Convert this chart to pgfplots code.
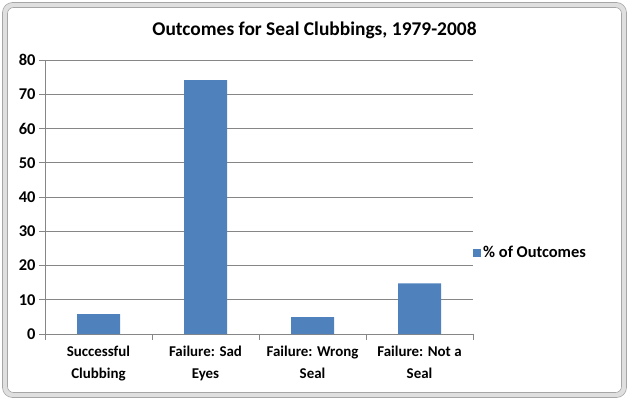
\documentclass[border=0pt]{standalone}
\usepackage{pgfplots}
\pgfplotsset{compat=1.18}
\usepackage{fontspec}
\setmainfont{Carlito}
\definecolor{barblue}{HTML}{4F81BD}
\definecolor{gridgray}{HTML}{868686}
\begin{document}
\begin{tikzpicture}[x=1bp,y=1bp]
\useasboundingbox (0,0) rectangle (629,400);
\draw[color=gray!25, line width=5bp, rounded corners=8bp] (5,5) rectangle (624,395);
\draw[color=gray!70, line width=0.6bp, rounded corners=10bp] (2.5,2.5) rectangle (626.5,397.5);
\draw[color=gray!70, line width=0.6bp, rounded corners=6bp] (7.5,7.5) rectangle (621.5,392.5);
\node[font=\fontsize{19.5}{23}\selectfont\bfseries] at (314.5,370) {Outcomes for Seal Clubbings, 1979-2008};
\begin{axis}[
  at={(45bp,66bp)}, anchor=south west,
  scale only axis, width=428bp, height=274bp,
  ymin=0, ymax=80, ytick={0,10,...,80},
  xmin=-0.5, xmax=3.5,
  xtick={-0.5,0.5,1.5,2.5,3.5}, xticklabels={,,,,,},
  extra x ticks={0,1,2,3},
  extra x tick labels={{Successful\\[3bp]Clubbing}, {Failure: Sad\\[3bp]Eyes}, {Failure: Wrong\\[3bp]Seal}, {Failure: Not a\\[3bp]Seal}},
  extra x tick style={major tick length=0pt, xticklabel style={yshift=-8bp}},
  axis lines*=left,
  axis line style={gridgray, line width=0.8bp},
  tick style={gridgray, line width=0.8bp},
  tick align=outside, major tick length=6bp,
  ymajorgrids, y grid style={gridgray, line width=0.8bp},
  /pgf/number format/assume math mode=true,
  xticklabel style={font=\fontsize{15}{20}\selectfont\bfseries, align=center},
  yticklabel style={font=\fontsize{16.5}{20}\selectfont\bfseries},
  ybar, bar width=43bp,
  legend style={at={(1.0,0.296)}, anchor=west, draw=none, fill=none,
    font=\fontsize{16.5}{18}\selectfont\bfseries, inner sep=0pt,
    nodes={inner sep=2bp}},
  legend image code/.code={\fill[barblue] (1bp,-4bp) rectangle (9bp,4bp);},
]
\addplot[fill=barblue, draw=none] coordinates {(0,5.8) (1,74.1) (2,4.9) (3,14.8)};
\addlegendentry{\% of Outcomes}
\end{axis}
\end{tikzpicture}
\end{document}
